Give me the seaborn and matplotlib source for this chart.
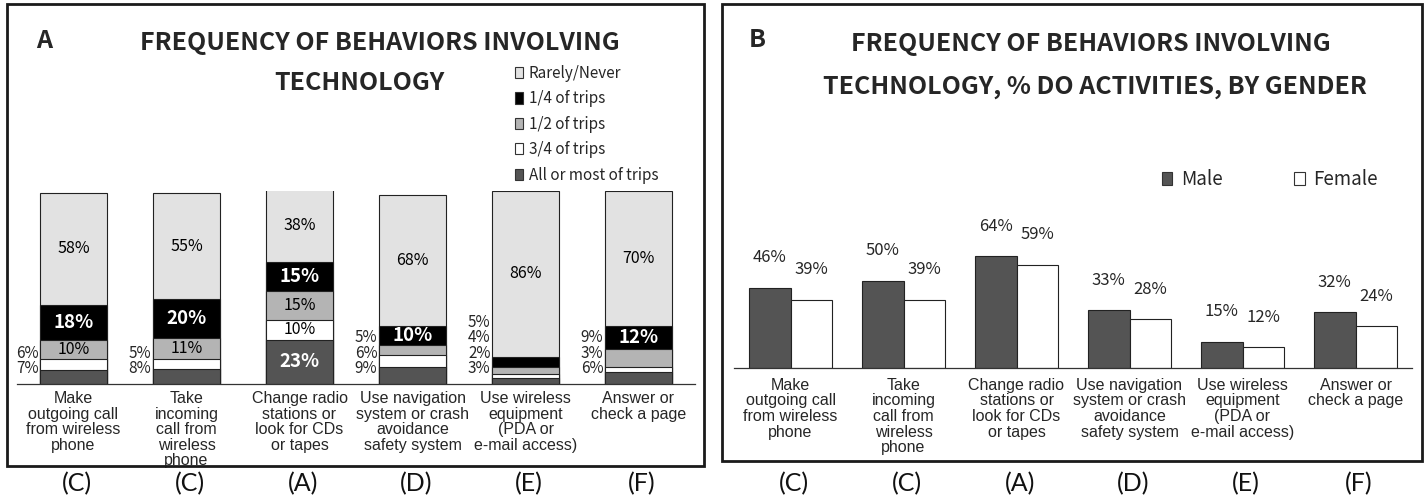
import matplotlib
matplotlib.use("Agg")
import matplotlib.pyplot as plt
import matplotlib.transforms as mtransforms
from matplotlib.patches import Patch, Rectangle
import pandas as pd
import seaborn as sns

# categories (same for both panels)
activities = [
    "Make\noutgoing call\nfrom wireless\nphone",
    "Take\nincoming\ncall from\nwireless\nphone",
    "Change radio\nstations or\nlook for CDs\nor tapes",
    "Use navigation\nsystem or crash\navoidance\nsafety system",
    "Use wireless\nequipment\n(PDA or\ne-mail access)",
    "Answer or\ncheck a page",
]
letters = ["(C)", "(C)", "(A)", "(D)", "(E)", "(F)"]

# panel A - frequency, stacked from bottom to top
freq_levels = ["All or most of trips", "3/4 of trips", "1/2 of trips", "1/4 of trips", "Rarely/Never"]
all_most = [7, 8, 23, 9, 3, 6]
three_q = [6, 5, 10, 6, 2, 3]
half = [10, 11, 15, 5, 4, 9]
one_q = [18, 20, 15, 10, 5, 12]
rarely = [58, 55, 38, 68, 86, 70]

# panel B - % doing the activity, by gender
genders = ["Male", "Female"]
male = [46, 50, 64, 33, 15, 32]
female = [39, 39, 59, 28, 12, 24]

level_colors = ["#545454", "#ffffff", "#b4b4b4", "#000000", "#e2e2e2"]
gender_colors = {"Male": "#545454", "Female": "#ffffff"}

sns.set_style("white")
# narrow-ish face for titles, legends and values (no Arial Narrow here)
narrow = ["Noto Sans CJK JP", "Liberation Sans", "DejaVu Sans"]
plt.rcParams["font.family"] = ["Liberation Sans", "DejaVu Sans"]

W, H = 1427, 499
fig = plt.figure(figsize=(W / 100, H / 100), dpi=100)


def fx(x):
    return x / W


def fy(y):
    return 1 - y / H


# boxes round the two panels
for x0, x1, y0, y1 in [(7, 704, 4, 466), (722, 1422, 4, 461)]:
    fig.patches.append(Rectangle((fx(x0), fy(y1)), (x1 - x0) / W, (y1 - y0) / H,
                                 transform=fig.transFigure, fill=False,
                                 lw=2, edgecolor="#1a1a1a"))

########################################
# Panel A
axA = fig.add_axes([fx(17), fy(384), 678 / W, 193 / H])

segs = [all_most, three_q, half, one_q, rarely]
cum = []
run = [0] * len(activities)
for s in segs:
    run = [r + v for r, v in zip(run, s)]
    cum.append(run)

# draw the tallest stack first, lower ones on top of it
for color, top in reversed(list(zip(level_colors, cum))):
    sns.barplot(x=activities, y=top, color=color, saturation=1, width=0.59,
                edgecolor="#222222", linewidth=0.8, errorbar=None, ax=axA)

for i in range(len(activities)):
    bottom = 0
    left_y = 0
    for k, s in enumerate(segs):
        v = s[i]
        mid = bottom + v / 2
        if v >= 10:
            if k in (0, 3):
                axA.text(i, mid, f"{v}%", ha="center", va="center", color="white",
                         fontsize=13.5, fontweight="bold", family=narrow)
            else:
                axA.text(i, mid, f"{v}%", ha="center", va="center", color="black",
                         fontsize=11.5, family=narrow)
        else:
            left_y = max(mid, left_y + 8, 5.5)
            axA.text(i - 0.31, left_y, f"{v}%", ha="right", va="center",
                     fontsize=11, family=narrow)
        bottom += v

axA.set_ylim(0, 100)
axA.set_xlim(-0.5, 5.5)

########################################
# Panel B
axB = fig.add_axes([fx(734), fy(368), 678 / W, 175 / H])

dfB = pd.DataFrame({
    "activity": activities * 2,
    "gender": ["Male"] * len(male) + ["Female"] * len(female),
    "pct": male + female,
})
sns.barplot(data=dfB, x="activity", y="pct", hue="gender", hue_order=genders,
            palette=gender_colors, saturation=1, width=0.74, edgecolor="#222222",
            linewidth=0.8, errorbar=None, legend=False, ax=axB)

for i, (m, f) in enumerate(zip(male, female)):
    axB.text(i - 0.185, m + 17, f"{m}%", ha="center", va="center", fontsize=12, family=narrow)
    axB.text(i + 0.185, f + 17, f"{f}%", ha="center", va="center", fontsize=12, family=narrow)

axB.set_ylim(0, 100)
axB.set_xlim(-0.5, 5.5)

########################################
# common axis styling
for ax, pad in [(axA, 5), (axB, 7)]:
    ax.set_xlabel("")
    ax.set_ylabel("")
    ax.set_yticks([])
    for side in ["top", "left", "right"]:
        ax.spines[side].set_visible(False)
    ax.spines["bottom"].set_color("#333333")
    ax.spines["bottom"].set_linewidth(0.9)
    ax.set_xticks(range(len(activities)))
    ax.set_xticklabels(activities, fontsize=11.5, linespacing=1.05)
    ax.set_xticks([i - 0.5 for i in range(len(activities) + 1)], minor=True)
    ax.tick_params(axis="x", which="major", length=0, pad=pad)
    ax.tick_params(axis="x", which="minor", length=6, width=0.9, color="#333333",
                   direction="out")
    tr = mtransforms.blended_transform_factory(ax.transData, fig.transFigure)
    for i, lab in enumerate(letters):
        ax.text(i + 0.03, fy(484), lab, transform=tr, ha="center", va="center",
                fontsize=18, family=["Lato", "DejaVu Sans"], color="#111111")

########################################
# titles
tkw = dict(fontsize=18, fontweight="bold", family=narrow, ha="center", va="center")
fig.text(fx(44), fy(41), "A", **tkw)
fig.text(fx(380), fy(43), "FREQUENCY OF BEHAVIORS INVOLVING", **tkw)
fig.text(fx(359), fy(83), "TECHNOLOGY", **tkw)

fig.text(fx(757), fy(40), "B", **tkw)
fig.text(fx(1091), fy(44), "FREQUENCY OF BEHAVIORS INVOLVING", **tkw)
fig.text(fx(1095), fy(87), "TECHNOLOGY, % DO ACTIVITIES, BY GENDER", **tkw)

# legends
handlesA = [Patch(facecolor=c, edgecolor="#333333", lw=0.8, label=l)
            for l, c in reversed(list(zip(freq_levels, level_colors)))]
fig.legend(handles=handlesA, loc="upper left", bbox_to_anchor=(fx(515), fy(65)),
           frameon=False, prop=dict(family=narrow, size=11), handlelength=0.5,
           handleheight=0.75, handletextpad=0.4, labelspacing=0.55,
           borderpad=0, borderaxespad=0)

handlesB = [Patch(facecolor=gender_colors[g], edgecolor="#333333", lw=0.8, label=g)
            for g in genders]
fig.legend(handles=handlesB, loc="upper left", bbox_to_anchor=(fx(1162), fy(169)),
           ncol=2, frameon=False, prop=dict(family=narrow, size=13.5),
           handlelength=0.55, handleheight=0.7, handletextpad=0.48,
           columnspacing=3.8, borderpad=0, borderaxespad=0)

fig.savefig("out.png", dpi=100)
